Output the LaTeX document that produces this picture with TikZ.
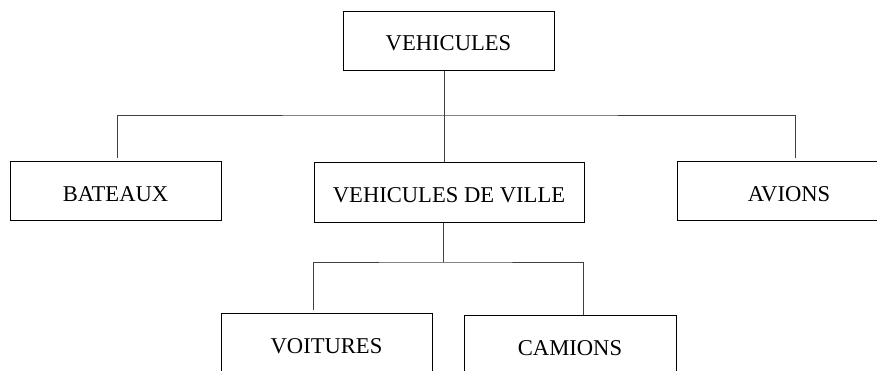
\documentclass[tikz,border=0pt]{standalone}
\usepackage{fontspec}
\setmainfont{Liberation Serif}
\usetikzlibrary{positioning,calc}

\begin{document}
\begin{tikzpicture}[x=0.5pt,y=-0.5pt,font=\fontsize{11.3}{13}\selectfont,
  boite/.style={draw,line width=0.5pt,inner sep=0pt,text height=10pt,text depth=0pt,minimum height=29.5pt},
  lien/.style={draw=black!75,line width=0.5pt}]
\useasboundingbox (0,0) rectangle (877,370);
\clip (0,0) rectangle (877,370);

%les boites
\node[boite,minimum width=105.5pt] (vehicules) at (448.5,40.5) {VEHICULES};
\node[boite,minimum width=105.5pt] (bateaux) at (115.5,191) {BATEAUX};
\node[boite,minimum width=135pt,minimum height=30pt] (ville) at (449,192) {VEHICULES DE VILLE};
\node[boite,minimum width=112pt] (avions) at (789,191) {AVIONS};
\node[boite,minimum width=105.5pt,minimum height=30pt] (voitures) at (326.5,343) {VOITURES};
\node[boite,minimum width=106pt,minimum height=30pt] (camions) at (570,345) {CAMIONS};

%les liens
\coordinate (hub) at (444,115);
\coordinate (hubville) at (443,262);
\draw[lien] (vehicules.south -| hub) -- (ville.north -| hub);
\draw[lien,shorten <=1.5pt,shorten >=1.5pt] ([xshift=0.75pt]bateaux.north) |- (hub) -| ([xshift=3pt]avions.north);
\draw[lien] (ville.south -| hubville) -- (hubville);
\draw[lien,shorten <=1.5pt] ([xshift=-6.5pt]voitures.north) |- (hubville) -| ([xshift=6.5pt]camions.north);

\end{tikzpicture}
\end{document}
